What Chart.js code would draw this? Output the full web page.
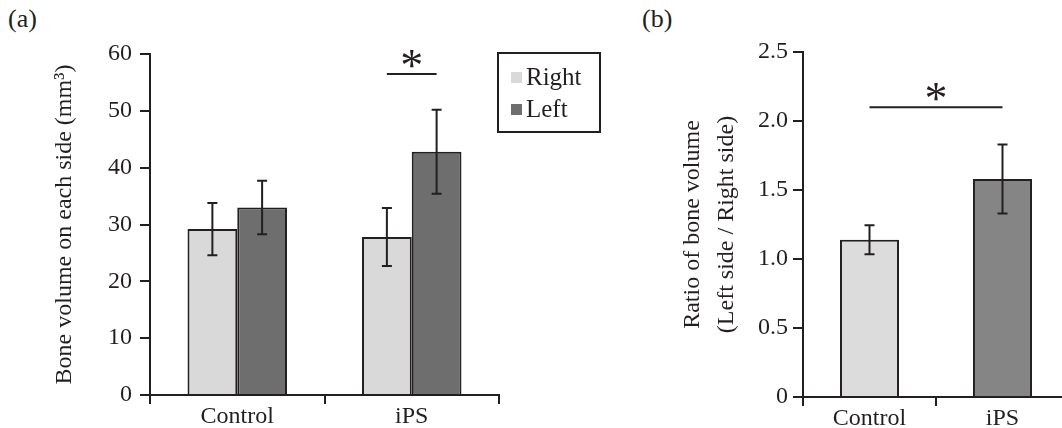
<!DOCTYPE html>
<html>
<head>
<meta charset="utf-8">
<script src="https://cdn.jsdelivr.net/npm/chart.js@4.4.1/dist/chart.umd.min.js"></script>
<style>
  body { margin: 0; width: 1062px; height: 428px; overflow: hidden; background: #fff; position: relative;
         font-family: 'Liberation Serif', 'DejaVu Serif', serif; color: #231f20; }
  .panel { position: absolute; top: 0; height: 428px; }
  .tag { position: absolute; top: 4px; font-size: 26px; }
</style>
</head>
<body>
<div class="tag" style="left:8px">(a)</div>
<div class="tag" style="left:642px">(b)</div>
<div class="panel" style="left:0; width:620px"><canvas id="chartA"></canvas></div>
<div class="panel" style="left:620px; width:449px"><canvas id="chartB"></canvas></div>
<script>
// data
const categories = ['Control', 'iPS'];
const rightMean = [29.2, 27.8];
const rightErr = [4.6, 5.1];
const leftMean = [33.0, 42.8];
const leftErr = [4.7, 7.4];
const ratioMean = [1.14, 1.58];
const ratioErr = [0.105, 0.25];
const volumeTicks = [0, 10, 20, 30, 40, 50, 60];
const ratioTicks = [0, 0.5, 1.0, 1.5, 2.0, 2.5];
const ratioTickLabels = ['0', '0.5', '1.0', '1.5', '2.0', '2.5'];

const ink = '#231f20';
const serif = "'Liberation Serif', serif";

// error bars: mean +/- err, drawn through the y scale
const errorBars = {
    id: 'errorBars',
    afterDatasetsDraw(chart) {
        const ctx = chart.ctx;
        const y = chart.scales.y;
        ctx.save();
        ctx.strokeStyle = ink;
        ctx.lineWidth = 2;
        chart.data.datasets.forEach((ds, di) => {
            chart.getDatasetMeta(di).data.forEach((bar, i) => {
                const hi = y.getPixelForValue(ds.data[i] + ds.errors[i]);
                const lo = y.getPixelForValue(ds.data[i] - ds.errors[i]);
                ctx.beginPath();
                ctx.moveTo(bar.x, hi); ctx.lineTo(bar.x, lo);
                ctx.moveTo(bar.x - 5, hi); ctx.lineTo(bar.x + 5, hi);
                ctx.moveTo(bar.x - 5, lo); ctx.lineTo(bar.x + 5, lo);
                ctx.stroke();
            });
        });
        ctx.restore();
    }
};

// significance line with star between two bars
const signif = {
    id: 'signif',
    afterDatasetsDraw(chart, args, opts) {
        const ctx = chart.ctx;
        const y = chart.scales.y;
        const a = chart.getDatasetMeta(opts.from[0]).data[opts.from[1]];
        const b = chart.getDatasetMeta(opts.to[0]).data[opts.to[1]];
        const ly = y.getPixelForValue(opts.line);
        ctx.save();
        ctx.strokeStyle = ink;
        ctx.fillStyle = ink;
        ctx.lineWidth = 2;
        ctx.beginPath();
        ctx.moveTo(a.x, ly); ctx.lineTo(b.x, ly);
        ctx.stroke();
        ctx.font = '46px ' + serif;
        ctx.textAlign = 'center';
        ctx.textBaseline = 'alphabetic';
        ctx.fillText('*', (a.x + b.x) / 2, y.getPixelForValue(opts.star) + 23);
        ctx.restore();
    }
};

// framed legend like the original
const boxLegend = {
    id: 'boxLegend',
    afterDraw(chart, args, opts) {
        const ctx = chart.ctx;
        ctx.save();
        ctx.strokeStyle = ink;
        ctx.lineWidth = 2;
        ctx.strokeRect(opts.x, opts.y, opts.w, opts.h);
        ctx.font = '25px ' + serif;
        ctx.textBaseline = 'middle';
        ctx.textAlign = 'left';
        chart.data.datasets.forEach((ds, i) => {
            const cy = opts.y + 25 + i * 32;
            ctx.fillStyle = ds.backgroundColor;
            ctx.fillRect(opts.x + 13, cy - 6, 11, 11);
            ctx.fillStyle = ink;
            ctx.fillText(ds.label, opts.x + 28, cy);
        });
        ctx.restore();
    }
};

function axes(yTicks, yLabels, yWidth, xHeight, tickPad, title, titlePad, titleLine) {
    return {
        x: {
            grid: { offset: true, drawOnChartArea: false, color: ink, lineWidth: 2, tickLength: 9 },
            border: { color: ink, width: 2 },
            ticks: { color: ink, font: { family: serif, size: 24 }, padding: -2 },
            afterFit: s => { s.height = xHeight; }
        },
        y: {
            min: yTicks[0],
            max: yTicks[yTicks.length - 1],
            afterBuildTicks: s => { s.ticks = yTicks.map(v => ({ value: v })); },
            grid: { drawOnChartArea: false, color: ink, lineWidth: 2, tickLength: 10 },
            border: { color: ink, width: 2 },
            ticks: { color: ink, font: { family: serif, size: 24 }, padding: tickPad,
                     callback: (v, i) => yLabels[i] },
            title: { display: true, text: title, color: ink,
                     font: { family: serif, size: 24, lineHeight: titleLine },
                     padding: { top: titlePad, bottom: 0 } },
            afterFit: s => { s.width = yWidth; }
        }
    };
}

new Chart(document.getElementById('chartA'), {
    type: 'bar',
    data: {
        labels: categories,
        datasets: [
            { label: 'Right', data: rightMean, errors: rightErr, backgroundColor: '#d9d9d9',
              borderColor: ink, borderWidth: 2, borderSkipped: 'bottom' },
            { label: 'Left', data: leftMean, errors: leftErr, backgroundColor: '#6e6e6e',
              borderColor: ink, borderWidth: 2, borderSkipped: 'bottom' }
        ]
    },
    options: {
        responsive: true,
        maintainAspectRatio: false,
        animation: false,
        categoryPercentage: 0.57,
        barPercentage: 1.0,
        layout: { padding: { left: 0, top: 54, right: 121, bottom: 0 } },
        plugins: {
            legend: { display: false },
            tooltip: { enabled: false },
            signif: { from: [0, 1], to: [1, 1], line: 56.5, star: 59.3 },
            boxLegend: { x: 498, y: 53, w: 102, h: 79 }
        },
        scales: axes(volumeTicks, volumeTicks.map(String), 150, 33, 8,
                     'Bone volume on each side (mm³)', 50, 1.2)
    },
    plugins: [errorBars, signif, boxLegend]
});

new Chart(document.getElementById('chartB'), {
    type: 'bar',
    data: {
        labels: categories,
        datasets: [
            { label: 'Ratio', data: ratioMean, errors: ratioErr,
              backgroundColor: ['#dcdcdc', '#858585'],
              borderColor: ink, borderWidth: 2, borderSkipped: 'bottom' }
        ]
    },
    options: {
        responsive: true,
        maintainAspectRatio: false,
        animation: false,
        categoryPercentage: 0.444,
        barPercentage: 1.0,
        layout: { padding: { left: 0, top: 52, right: 0, bottom: 0 } },
        plugins: {
            legend: { display: false },
            tooltip: { enabled: false },
            signif: { from: [0, 0], to: [0, 1], line: 2.10, star: 2.22 }
        },
        scales: axes(ratioTicks, ratioTickLabels, 183, 31, 5,
                     ['Ratio of bone volume', '(Left side / Right side)'], 56, 1.42)
    },
    plugins: [errorBars, signif]
});
</script>
</body>
</html>
